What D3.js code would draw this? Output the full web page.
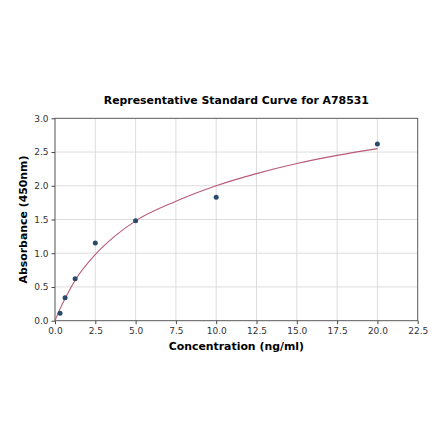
<!DOCTYPE html>
<html>
<head>
<meta charset="utf-8">
<script src="https://cdn.jsdelivr.net/npm/d3@7"></script>
<style>
  body { margin: 0; background: #fff; }
  text { font-family: "DejaVu Sans", sans-serif; }
</style>
</head>
<body>
<div id="chart"></div>
<script>
// standard points
var concentrations = [0.3125, 0.625, 1.25, 2.5, 5, 10, 20];
var absorbances = [0.11, 0.34, 0.62, 1.15, 1.48, 1.83, 2.62];

// fitted curve
var curveX = [0, 0.156, 0.3125, 0.625, 1.25, 2.5, 3.75, 5, 7.5, 10, 12.5, 15, 17.5, 20];
var curveY = [0, 0.09, 0.175, 0.33, 0.6, 0.98, 1.26, 1.48, 1.77, 2.0, 2.18, 2.33, 2.45, 2.55];

var xTicks = [0, 2.5, 5, 7.5, 10, 12.5, 15, 17.5, 20, 22.5];
var yTicks = [0, 0.5, 1, 1.5, 2, 2.5, 3];

var width = 440, height = 441;
var margin = { top: 118.3, right: 22.3, bottom: 120.3, left: 55 };

var svg = d3.select("#chart").append("svg")
    .attr("width", width)
    .attr("height", height);

var x = d3.scaleLinear().domain([0, 22.5]).range([margin.left, width - margin.right]);
var y = d3.scaleLinear().domain([0, 3]).range([height - margin.bottom, margin.top]);

// grid
svg.append("g").selectAll("line").data(xTicks).enter().append("line")
    .attr("x1", function(d) { return x(d); })
    .attr("x2", function(d) { return x(d); })
    .attr("y1", y(0)).attr("y2", y(3))
    .attr("stroke", "#d4d4d4").attr("stroke-width", 0.8);
svg.append("g").selectAll("line").data(yTicks).enter().append("line")
    .attr("x1", x(0)).attr("x2", x(22.5))
    .attr("y1", function(d) { return y(d); })
    .attr("y2", function(d) { return y(d); })
    .attr("stroke", "#d4d4d4").attr("stroke-width", 0.8);

// axes
var xAxis = d3.axisBottom(x).tickValues(xTicks).tickFormat(d3.format(".1f")).tickSize(3.5).tickPadding(3);
var yAxis = d3.axisLeft(y).tickValues(yTicks).tickFormat(d3.format(".1f")).tickSize(3.5).tickPadding(3);

var gx = svg.append("g").attr("transform", "translate(0," + y(0) + ")").call(xAxis);
var gy = svg.append("g").attr("transform", "translate(" + x(0) + ",0)").call(yAxis);

[gx, gy].forEach(function(g) {
    g.select(".domain").remove();
    g.selectAll(".tick line").attr("stroke", "#444");
    g.selectAll(".tick text").attr("font-size", "9px").attr("fill", "#333")
        .style("font-family", "DejaVu Sans, sans-serif");
});

// frame
svg.append("rect")
    .attr("x", x(0)).attr("y", y(3))
    .attr("width", x(22.5) - x(0)).attr("height", y(0) - y(3))
    .attr("fill", "none").attr("stroke", "#555").attr("stroke-width", 0.9);

// curve
var line = d3.line()
    .x(function(d, i) { return x(curveX[i]); })
    .y(function(d) { return y(d); })
    .curve(d3.curveMonotoneX);

svg.append("path")
    .datum(curveY)
    .attr("d", line)
    .attr("fill", "none")
    .attr("stroke", "#b85a78")
    .attr("stroke-width", 1.1);

// points
svg.append("g").selectAll("circle").data(absorbances).enter().append("circle")
    .attr("cx", function(d, i) { return x(concentrations[i]); })
    .attr("cy", function(d) { return y(d); })
    .attr("r", 2.5)
    .attr("fill", "#2b4a6b");

// title and labels
svg.append("text")
    .attr("x", (x(0) + x(22.5)) / 2).attr("y", 103.5)
    .attr("text-anchor", "middle")
    .attr("font-size", "10.9px").attr("font-weight", "bold")
    .text("Representative Standard Curve for A78531");

svg.append("text")
    .attr("x", (x(0) + x(22.5)) / 2).attr("y", 350)
    .attr("text-anchor", "middle")
    .attr("font-size", "10.9px").attr("font-weight", "bold")
    .text("Concentration (ng/ml)");

svg.append("text")
    .attr("transform", "translate(26.5," + (y(0) + y(3)) / 2 + ") rotate(-90)")
    .attr("text-anchor", "middle")
    .attr("font-size", "10.9px").attr("font-weight", "bold")
    .text("Absorbance (450nm)");
</script>
</body>
</html>
